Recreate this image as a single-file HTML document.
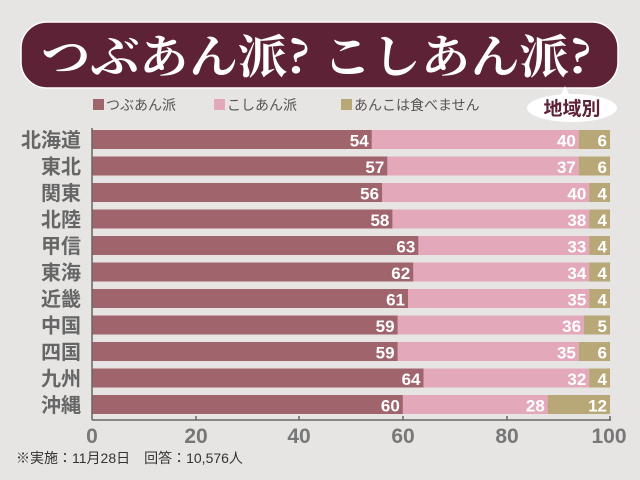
<!DOCTYPE html>
<html><head><meta charset="utf-8"><style>
body{margin:0;background:#e7e5e3;}
svg{display:block}
.n{font-family:'Liberation Sans',sans-serif;font-weight:bold;font-size:17px;fill:#fff;text-anchor:end}
.c{font-family:'Noto Sans CJK JP',sans-serif;font-weight:bold;font-size:20px;fill:#666;text-anchor:end}
</style></head><body>
<svg width="640" height="480" viewBox="0 0 640 480" xmlns="http://www.w3.org/2000/svg">
<rect width="640" height="480" fill="#e7e5e3"/>
<rect x="21" y="22" width="597" height="66" rx="26" fill="#5d2236" stroke="#fff" stroke-width="1.5"/>
<text x="41" y="73" font-family="'Noto Serif CJK SC','Noto Serif CJK JP',serif" font-weight="bold" font-size="46" fill="#fff" textLength="551" lengthAdjust="spacingAndGlyphs">つぶあん派? こしあん派?</text>
<g font-family="'Liberation Sans','Noto Sans CJK JP',sans-serif" font-size="14" fill="#555">
<rect x="93" y="99" width="11" height="11" fill="#a0646c"/><text x="106" y="110">つぶあん派</text>
<rect x="214" y="99" width="11" height="11" fill="#e3a9bb"/><text x="227" y="110">こしあん派</text>
<rect x="341" y="99" width="11" height="11" fill="#b8a878"/><text x="354" y="110">あんこは食べません</text>
</g>
<ellipse cx="572" cy="108" rx="45" ry="14" fill="#fff"/>
<polygon points="560,96 565,86 570,96" fill="#fff"/>
<text x="572" y="115" text-anchor="middle" font-family="'Noto Sans CJK JP',sans-serif" font-weight="bold" font-size="19" fill="#5d2236">地域別</text>

<g fill="#e3a9bb">
<rect x="92" y="130" width="518" height="19"/><rect x="92" y="156.5" width="518" height="19"/><rect x="92" y="183" width="518" height="19"/><rect x="92" y="209.5" width="518" height="19"/><rect x="92" y="236" width="518" height="19"/><rect x="92" y="262.5" width="518" height="19"/><rect x="92" y="289" width="518" height="19"/><rect x="92" y="315.5" width="518" height="19"/><rect x="92" y="342" width="518" height="19"/><rect x="92" y="368.5" width="518" height="19"/><rect x="92" y="395" width="518" height="19"/>
</g>
<g fill="#a0646c">
<rect x="92" y="130" width="279.7" height="19"/><rect x="92" y="156.5" width="295.3" height="19"/><rect x="92" y="183" width="290.1" height="19"/><rect x="92" y="209.5" width="300.4" height="19"/><rect x="92" y="236" width="326.3" height="19"/><rect x="92" y="262.5" width="321.2" height="19"/><rect x="92" y="289" width="316" height="19"/><rect x="92" y="315.5" width="305.6" height="19"/><rect x="92" y="342" width="305.6" height="19"/><rect x="92" y="368.5" width="331.5" height="19"/><rect x="92" y="395" width="310.8" height="19"/>
</g>
<g fill="#b8a878">
<rect x="578.9" y="130" width="31.1" height="19"/><rect x="578.9" y="156.5" width="31.1" height="19"/><rect x="589.3" y="183" width="20.7" height="19"/><rect x="589.3" y="209.5" width="20.7" height="19"/><rect x="589.3" y="236" width="20.7" height="19"/><rect x="589.3" y="262.5" width="20.7" height="19"/><rect x="589.3" y="289" width="20.7" height="19"/><rect x="584.1" y="315.5" width="25.9" height="19"/><rect x="578.9" y="342" width="31.1" height="19"/><rect x="589.3" y="368.5" width="20.7" height="19"/><rect x="547.8" y="395" width="62.2" height="19"/>
</g>
<g>
<text class="n" x="368.7" y="146.5">54</text><text class="n" x="575.9" y="146.5">40</text><text class="n" x="607" y="146.5">6</text>
<text class="n" x="384.3" y="173">57</text><text class="n" x="575.9" y="173">37</text><text class="n" x="607" y="173">6</text>
<text class="n" x="379.1" y="199.5">56</text><text class="n" x="586.3" y="199.5">40</text><text class="n" x="607" y="199.5">4</text>
<text class="n" x="389.4" y="226">58</text><text class="n" x="586.3" y="226">38</text><text class="n" x="607" y="226">4</text>
<text class="n" x="415.3" y="252.5">63</text><text class="n" x="586.3" y="252.5">33</text><text class="n" x="607" y="252.5">4</text>
<text class="n" x="410.2" y="279">62</text><text class="n" x="586.3" y="279">34</text><text class="n" x="607" y="279">4</text>
<text class="n" x="405" y="305.5">61</text><text class="n" x="586.3" y="305.5">35</text><text class="n" x="607" y="305.5">4</text>
<text class="n" x="394.6" y="332">59</text><text class="n" x="581.1" y="332">36</text><text class="n" x="607" y="332">5</text>
<text class="n" x="394.6" y="358.5">59</text><text class="n" x="575.9" y="358.5">35</text><text class="n" x="607" y="358.5">6</text>
<text class="n" x="420.5" y="385">64</text><text class="n" x="586.3" y="385">32</text><text class="n" x="607" y="385">4</text>
<text class="n" x="399.8" y="411.5">60</text><text class="n" x="544.8" y="411.5">28</text><text class="n" x="607" y="411.5">12</text>
</g>
<g>
<text class="c" x="81" y="147">北海道</text><text class="c" x="81" y="173.5">東北</text><text class="c" x="81" y="200">関東</text><text class="c" x="81" y="226.5">北陸</text><text class="c" x="81" y="253">甲信</text><text class="c" x="81" y="279.5">東海</text><text class="c" x="81" y="306">近畿</text><text class="c" x="81" y="332.5">中国</text><text class="c" x="81" y="359">四国</text><text class="c" x="81" y="385.5">九州</text><text class="c" x="81" y="412">沖縄</text>
</g>
<line x1="92" y1="128" x2="92" y2="420" stroke="#666" stroke-width="1.5"/>
<line x1="92" y1="420" x2="611" y2="420" stroke="#666" stroke-width="1.5"/>
<g stroke="#666" stroke-width="1.5">
<line x1="196" y1="416" x2="196" y2="420"/><line x1="299" y1="416" x2="299" y2="420"/><line x1="403" y1="416" x2="403" y2="420"/><line x1="507" y1="416" x2="507" y2="420"/><line x1="610" y1="416" x2="610" y2="420"/>
</g>
<g font-family="'Liberation Sans',sans-serif" font-weight="bold" font-size="21" fill="#777" text-anchor="middle">
<text x="92" y="443">0</text><text x="196" y="443">20</text><text x="299" y="443">40</text><text x="403" y="443">60</text><text x="507" y="443">80</text><text x="609" y="443">100</text>
</g>
<text x="16" y="463" font-family="'Liberation Sans','Noto Sans CJK JP',sans-serif" font-size="14" fill="#333">※実施：11月28日　回答：10,576人</text>
</svg>
</body></html>
